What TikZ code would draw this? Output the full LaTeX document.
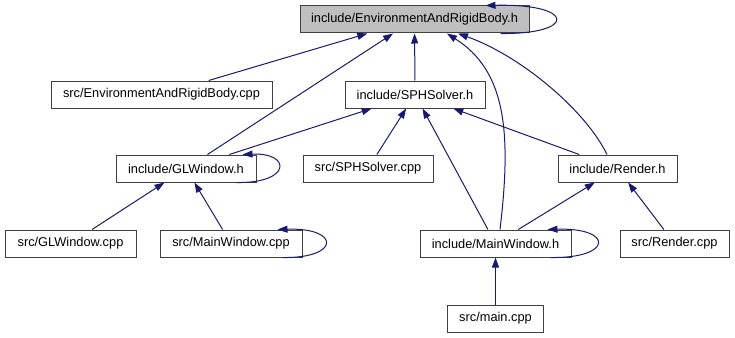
\documentclass[tikz,border=0pt]{standalone}
\usepackage{fontspec}
\setmainfont{Liberation Sans}
\usetikzlibrary{arrows.meta,calc}
\definecolor{edgeblue}{HTML}{191970}

\begin{document}
\begin{tikzpicture}[x=1pt,y=-1pt,
	file/.style={draw=black!75,line width=1pt,fill=white,minimum height=27pt,inner sep=0pt,font=\fontsize{12.8}{15}\selectfont},
	dep/.style={edgeblue,line width=1pt,-{Triangle[length=10pt,width=7pt]}}]
	\useasboundingbox (0,0) rectangle (735,337);
	% files
	\node[file,fill=black!25,minimum width=229pt] (erbh) at (414.5,19.5) {include/EnvironmentAndRigidBody.h};
	\node[file,minimum width=221pt] (erbcpp) at (161.5,94.5) {src/EnvironmentAndRigidBody.cpp};
	\node[file,minimum width=140pt] (sphh) at (415,94.5) {include/SPHSolver.h};
	\node[file,minimum width=140pt] (glh) at (186,168.5) {include/GLWindow.h};
	\node[file,minimum width=130pt] (sphcpp) at (368,168.5) {src/SPHSolver.cpp};
	\node[file,minimum width=119pt] (renderh) at (617.5,168.5) {include/Render.h};
	\node[file,minimum width=131pt] (glcpp) at (70.5,243.5) {src/GLWindow.cpp};
	\node[file,minimum width=142pt] (mwcpp) at (231,243.5) {src/MainWindow.cpp};
	\node[file,minimum width=151pt] (mwh) at (495.5,243.5) {include/MainWindow.h};
	\node[file,minimum width=109pt] (rendercpp) at (674.5,243.5) {src/Render.cpp};
	\node[file,minimum width=96pt] (maincpp) at (495.5,318.5) {src/main.cpp};
	% includes
	\draw[dep] (erbcpp) -- (erbh);
	\draw[dep] (glh) -- (erbh);
	\draw[dep] (sphh) -- (erbh);
	\draw[dep] ($(mwh.north)+(4.5,0)$) .. controls +(12,-100) and +(58,37) .. ($(erbh.south)+(32.5,0)$);
	\draw[dep] ($(renderh.north)+(-10.5,0)$) .. controls +(-22,-45) and +(62,22) .. ($(erbh.south)+(43.5,0)$);
	\draw[dep] ($(erbh.south east)+(-29,0)$) .. controls +(76,1) and +(91,-2) .. ($(erbh.north east)+(-44,0)$);
	\draw[dep] (glh) -- (sphh);
	\draw[dep] (sphcpp) -- (sphh);
	\draw[dep] (mwh) -- (sphh);
	\draw[dep] (renderh) -- (sphh);
	\draw[dep] ($(glh.south east)+(-20,0)$) .. controls +(55,1) and +(49,-2) .. ($(glh.north east)+(-14,0)$);
	\draw[dep] (glcpp) -- (glh);
	\draw[dep] (mwcpp) -- (glh);
	\draw[dep] ($(mwcpp.south east)+(-20,0)$) .. controls +(58,1) and +(63,-2) .. ($(mwcpp.north east)+(-25,0)$);
	\draw[dep] (mwh) -- (renderh);
	\draw[dep] (rendercpp) -- (renderh);
	\draw[dep] ($(mwh.south east)+(-21,0)$) .. controls +(63,1) and +(66,-2) .. ($(mwh.north east)+(-24,0)$);
	\draw[dep] (maincpp) -- (mwh);
\end{tikzpicture}
\end{document}
